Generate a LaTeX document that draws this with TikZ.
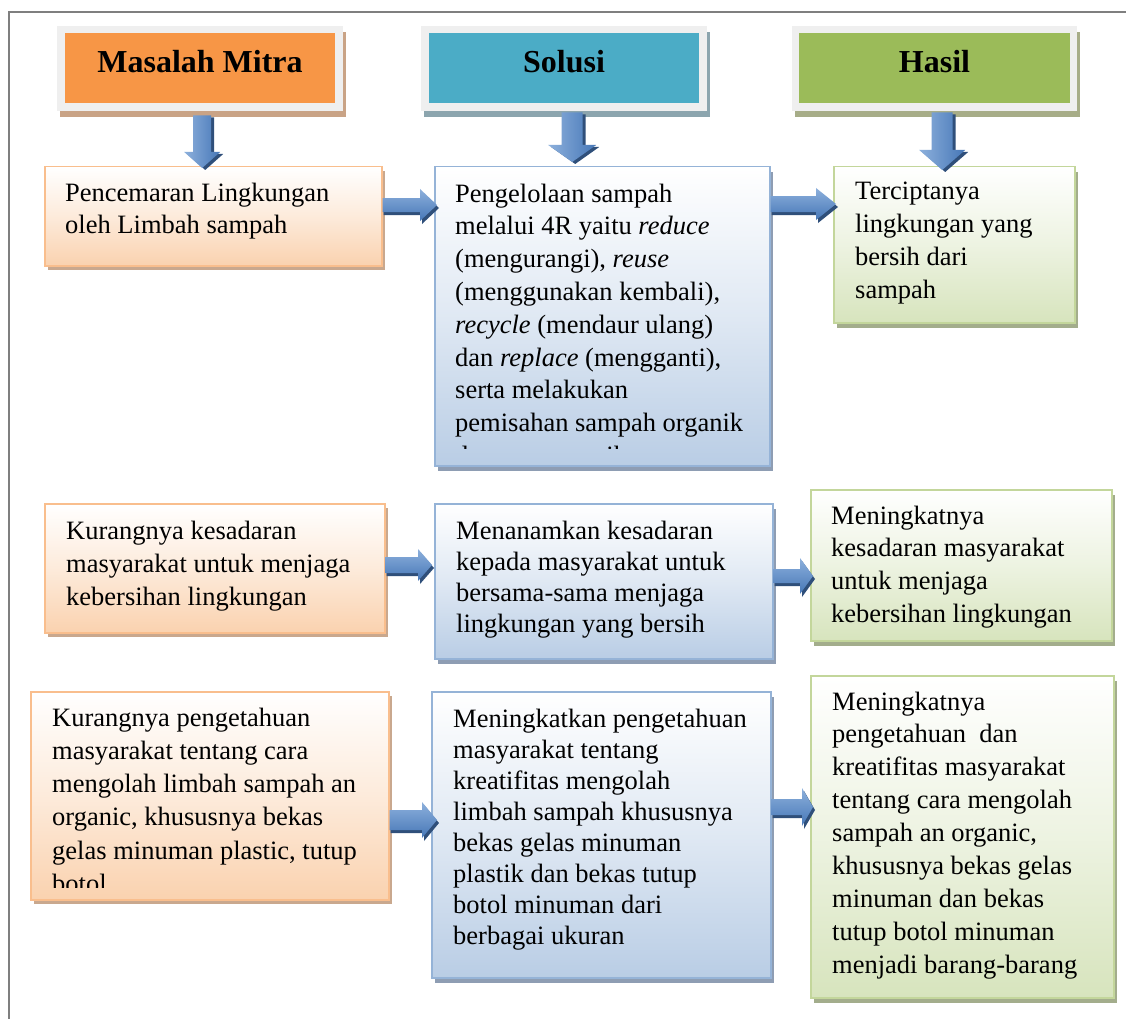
\documentclass[tikz,border=0pt]{standalone}
\usepackage{fontspec}
\setmainfont{Liberation Serif}[Ligatures=NoCommon]
\usetikzlibrary{calc,shadows}
\definecolor{framec}{HTML}{7F7F7F}
\definecolor{hgray}{HTML}{EFEFEF}
\definecolor{hOrange}{HTML}{F79646}
\definecolor{hBlue}{HTML}{4BACC6}
\definecolor{hGreen}{HTML}{9BBB59}
\definecolor{shHA}{HTML}{C9A386}
\definecolor{shHB}{HTML}{8CA5AE}
\definecolor{shHC}{HTML}{A7AD88}
\definecolor{bdO}{HTML}{F9BE8D}
\definecolor{bdB}{HTML}{95B3D7}
\definecolor{bdG}{HTML}{C3D69B}
\definecolor{gO}{HTML}{FAD2AF}
\definecolor{gB}{HTML}{B9CDE5}
\definecolor{gG}{HTML}{D7E4BD}
\definecolor{shO}{HTML}{C9A88E}
\definecolor{shB}{HTML}{8E9DB3}
\definecolor{shG}{HTML}{A3AD8C}
\definecolor{arrL}{HTML}{8DB0DC}
\definecolor{arrD}{HTML}{4677B7}
\definecolor{arrS}{HTML}{2F4F7A}
\newcommand\bodyfont[1]{\fontsize{26.5}{#1}\selectfont}
\tikzset{
  hframe/.style={fill=hgray, draw=none, anchor=north west, inner sep=0, minimum height=85pt},
  hinner/.style={draw=none, anchor=north west, inner sep=0, minimum width=270pt, minimum height=70pt},
  htext/.style={anchor=base, inner sep=0, font=\bfseries\fontsize{32}{38}\selectfont},
  cbox/.style={anchor=north west, inner sep=0, line width=1.5pt},
  obox/.style={cbox, draw=bdO, top color=white, bottom color=gO, middle color=gO!45,
    drop shadow={shadow xshift=3pt, shadow yshift=-4pt, fill=shO, opacity=1}},
  bbox/.style={cbox, draw=bdB, top color=white, bottom color=gB, middle color=gB!45,
    drop shadow={shadow xshift=3pt, shadow yshift=-5pt, fill=shB, opacity=1}},
  gbox/.style={cbox, draw=bdG, top color=white, bottom color=gG, middle color=gG!45,
    drop shadow={shadow xshift=3pt, shadow yshift=-5pt, fill=shG, opacity=1}},
  txt/.style={anchor=base west, inner sep=0},
  arrshadow/.style={fill=arrS},
}
% right block arrow: start, tip, shaft half, head half, head length
\newcommand\rblock[5]{%
  \fill[arrshadow] let \p1=#1, \p2=#2 in
    (\x1+1pt,\y1+#3pt-3pt) -- (\x2-#5pt+2pt,\y1+#3pt-3pt) -- (\x2-#5pt+2pt,\y1+#4pt-3pt)
    -- (\x2+2pt,\y1-3pt) -- (\x2-#5pt+2pt,\y1-#4pt-3pt) -- (\x2-#5pt+2pt,\y1-#3pt-3pt)
    -- (\x1+1pt,\y1-#3pt-3pt) -- cycle;
  \shade[top color=arrL, bottom color=arrD] let \p1=#1, \p2=#2 in
    (\x1,\y1+#3pt) -- (\x2-#5pt,\y1+#3pt) -- (\x2-#5pt,\y1+#4pt)
    -- (\x2,\y1) -- (\x2-#5pt,\y1-#4pt) -- (\x2-#5pt,\y1-#3pt)
    -- (\x1,\y1-#3pt) -- cycle;
}
% down block arrow: start, tip, shaft half, head half, head length
\newcommand\dblock[5]{%
  \fill[arrshadow] let \p1=#1, \p2=#2 in
    (\x1-#3pt+3pt,\y1-2pt) -- (\x1+#3pt+3pt,\y1-2pt) -- (\x1+#3pt+3pt,\y2+#5pt-2pt)
    -- (\x1+#4pt+3pt,\y2+#5pt-2pt) -- (\x1+3pt,\y2-2pt) -- (\x1-#4pt+3pt,\y2+#5pt-2pt)
    -- (\x1-#3pt+3pt,\y2+#5pt-2pt) -- cycle;
  \shade[left color=arrL, right color=arrD] let \p1=#1, \p2=#2 in
    (\x1-#3pt,\y1) -- (\x1+#3pt,\y1) -- (\x1+#3pt,\y2+#5pt)
    -- (\x1+#4pt,\y2+#5pt) -- (\x1,\y2) -- (\x1-#4pt,\y2+#5pt)
    -- (\x1-#3pt,\y2+#5pt) -- cycle;
}
\begin{document}
\begin{tikzpicture}[x=1pt,y=-1pt]
\useasboundingbox (0,0) rectangle (1126,1019);
\fill[white] (0,0) rectangle (1126,1019);
\draw[framec, line width=1.2pt] (9,1019) -- (9,12) -- (1126,12);

% headers
\node[hframe, minimum width=286pt, drop shadow={shadow xshift=3pt, shadow yshift=-6pt, fill=shHA, opacity=1}] (hA) at (57,26) {};
\node[hinner, fill=hOrange] (hAi) at (65,33) {};
\node[htext] (hAt) at (200,73) {Masalah Mitra};

\node[hframe, minimum width=286pt, drop shadow={shadow xshift=3pt, shadow yshift=-6pt, fill=shHB, opacity=1}] (hB) at (421,26) {};
\node[hinner, fill=hBlue] (hBi) at (429,33) {};
\node[htext] (hBt) at (564,73) {Solusi};

\node[hframe, minimum width=285pt, drop shadow={shadow xshift=3pt, shadow yshift=-6pt, fill=shHC, opacity=1}] (hC) at (792,26) {};
\node[hinner, fill=hGreen, minimum width=271pt] (hCi) at (799,33) {};
\node[htext] (hCt) at (934.5,73) {Hasil};

% row 1
\node[obox, minimum width=337pt, minimum height=99pt] (A1) at (44,166) {};
\node[bbox, minimum width=335pt, minimum height=299pt] (B1) at (434,166) {};
\node[gbox, minimum width=241pt, minimum height=156pt] (C1) at (833,166) {};
% row 2
\node[obox, minimum width=340pt, minimum height=129pt] (A2) at (44,503) {};
\node[bbox, minimum width=338pt, minimum height=155pt] (B2) at (434,503) {};
\node[gbox, minimum width=301pt, minimum height=151pt] (C2) at (810,489) {};
% row 3
\node[obox, minimum width=358pt, minimum height=208pt] (A3) at (30,691) {};
\node[bbox, minimum width=339pt, minimum height=286pt] (B3) at (431,691) {};
\node[gbox, minimum width=303pt, minimum height=322pt] (C3) at (810,675) {};

% texts
\node[txt] (A1t) at (65,201) {\parbox[t]{420pt}{\bodyfont{32.5}Pencemaran Lingkungan\\oleh Limbah sampah}};
\begin{scope}
\clip (434,166) rectangle (769,448);
\node[txt] (B1t) at (455,202) {\parbox[t]{420pt}{\bodyfont{32.8}Pengelolaan sampah\\melalui 4R yaitu \textit{reduce}\\(mengurangi), \textit{reuse}\\(menggunakan kembali),\\\textit{recycle} (mendaur ulang)\\dan \textit{replace} (mengganti),\\serta melakukan\\pemisahan sampah organik\\dan non organik}};
\end{scope}
\node[txt] (C1t) at (855,200) {\parbox[t]{420pt}{\bodyfont{32.8}Terciptanya\\lingkungan yang\\bersih dari\\sampah}};

\node[txt] (A2t) at (66,539) {\parbox[t]{420pt}{\bodyfont{33}Kurangnya kesadaran\\masyarakat untuk menjaga\\kebersihan lingkungan}};
\node[txt] (B2t) at (456,539) {\parbox[t]{420pt}{\bodyfont{31}Menanamkan kesadaran\\kepada masyarakat untuk\\bersama-sama menjaga\\lingkungan yang bersih}};
\node[txt] (C2t) at (831,524) {\parbox[t]{420pt}{\bodyfont{32.7}Meningkatnya\\kesadaran masyarakat\\untuk menjaga\\kebersihan lingkungan}};

\begin{scope}
\clip (30,691) rectangle (388,887);
\node[txt] (A3t) at (52,726) {\parbox[t]{420pt}{\bodyfont{33.3}Kurangnya pengetahuan\\masyarakat tentang cara\\mengolah limbah sampah an\\organic, khususnya bekas\\gelas minuman plastic, tutup\\botol}};
\end{scope}
\node[txt] (B3t) at (453,727) {\parbox[t]{420pt}{\bodyfont{31}Meningkatkan pengetahuan\\masyarakat tentang\\kreatifitas mengolah\\limbah sampah khususnya\\bekas gelas minuman\\plastik dan bekas tutup\\botol minuman dari\\berbagai ukuran}};
\node[txt] (C3t) at (832,710) {\parbox[t]{420pt}{\bodyfont{32.9}Meningkatnya\\pengetahuan\ \ dan\\kreatifitas masyarakat\\tentang cara mengolah\\sampah an organic,\\khususnya bekas gelas\\minuman dan bekas\\tutup botol minuman\\menjadi barang-barang}};

% down arrows
\dblock{($(hA.south)+(2,4)$)}{($(A1.north)+(-10.5,2)$)}{9}{18}{16}
\dblock{($(hB.south)+(8,1)$)}{($(B1.north)+(-29.5,-4)$)}{10.5}{24}{17}
\dblock{($(hC.south)+(7.5,1)$)}{($(C1.north)+(-11.5,4)$)}{10.5}{23}{20}

% right arrows
\rblock{(A1.east |- 0,205)}{($(B1.west |- 0,205)+(3,0)$)}{7}{16}{17}
\rblock{(B1.east |- 0,204)}{($(C1.west |- 0,204)+(3,0)$)}{8}{16}{20}
\rblock{(A2.east |- 0,565)}{($(B2.west |- 0,565)+(-2,0)$)}{8}{16}{14}
\rblock{(B2.east |- 0,576)}{($(C2.west |- 0,576)+(3,0)$)}{7}{18}{13}
\rblock{(A3.east |- 0,820)}{($(B3.west |- 0,820)+(6,0)$)}{10}{18}{15}
\rblock{(B3.east |- 0,807)}{($(C3.west |- 0,807)+(3,0)$)}{8}{19}{11}
\end{tikzpicture}
\end{document}
